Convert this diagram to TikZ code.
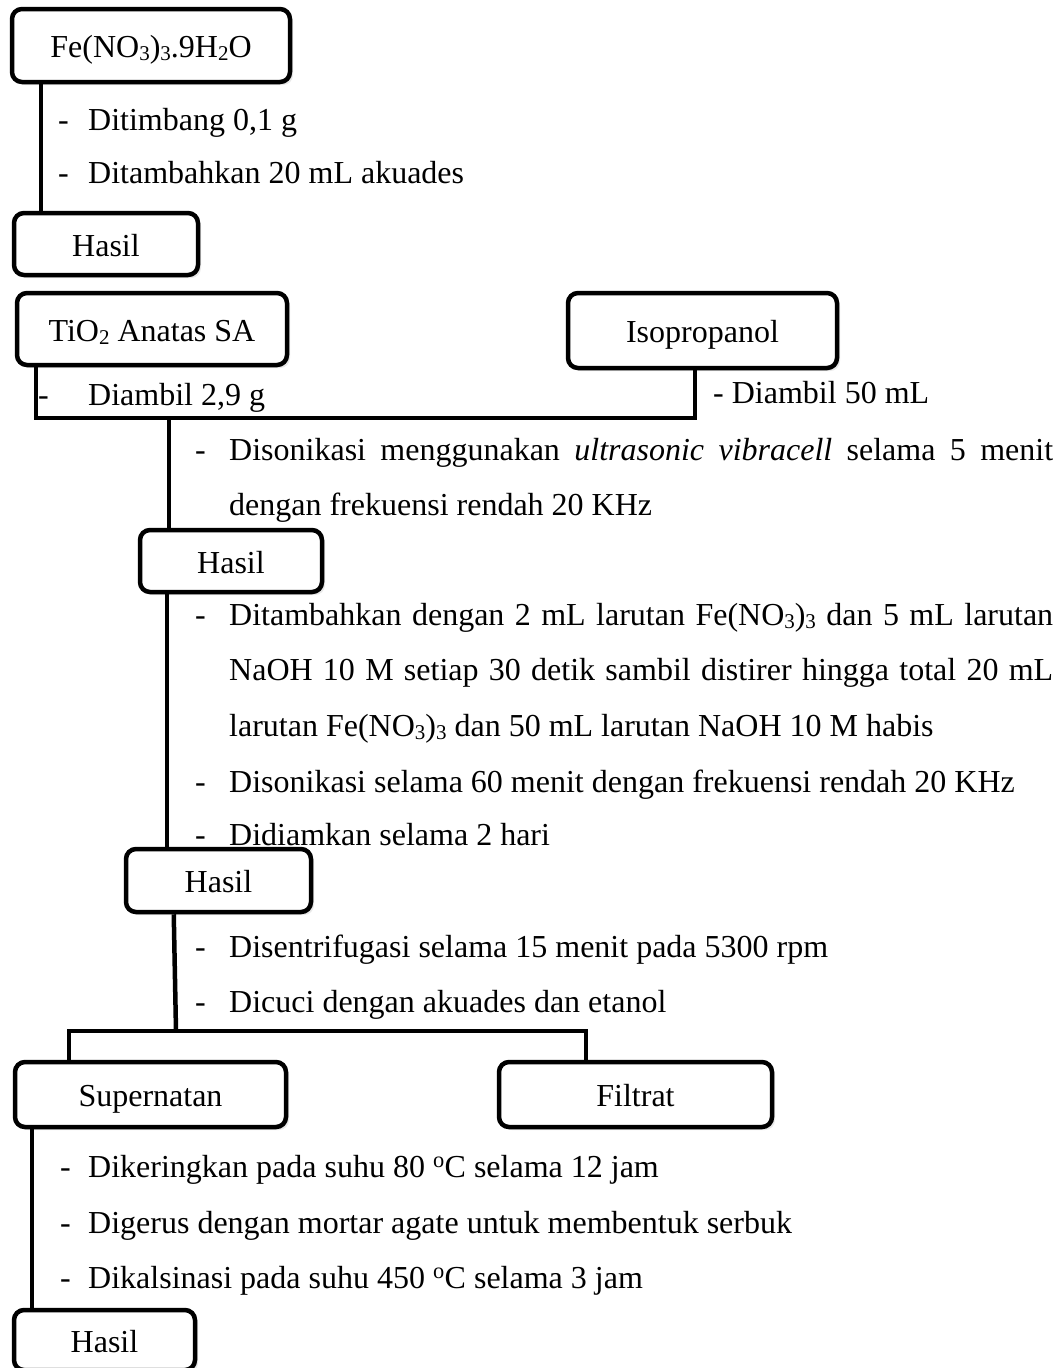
\documentclass[tikz,border=0pt]{standalone}
\usepackage{fontspec}
\setmainfont{Liberation Serif}
\usepackage{xcolor}
\usepackage{tikz}
\usetikzlibrary{positioning, calc, shadows}
\definecolor{flowInk}{RGB}{0, 0, 0}
\newcommand{\chemsub}[1]{\raisebox{-3pt}{\fontsize{21}{21}\selectfont #1}}
\tikzset{
    base/.style={
        font=\fontsize{32}{55.5}\selectfont,
        text=flowInk
    },
    stage/.style={
        base,
        rectangle,
        rounded corners=10pt,
        draw=flowInk,
        line width=4.5pt,
        fill=white,
        align=center,
        inner sep=0pt,
        text height=24pt,
        text depth=0pt,
        drop shadow={opacity=0.18, shadow xshift=3pt, shadow yshift=-3pt}
    },
    link/.style={
        draw=flowInk,
        line width=4.5pt
    },
    stepdash/.style={
        base,
        anchor=base west,
        inner sep=0pt
    },
    stepnote/.style={
        base,
        anchor=base west,
        inner sep=0pt
    },
    steppara/.style={
        stepnote,
        text width=824pt,
        align=justify
    }
}
\begin{document}
\begin{tikzpicture}[x=1pt, y=-1pt]
    \useasboundingbox (0,0) rectangle (1056,1368);

    % Boxes
    \node[stage, minimum width=278pt, minimum height=73pt] (fe) at (151,45.5) {Fe(NO\chemsub{3})\chemsub{3}.9H\chemsub{2}O};
    \node[stage, minimum width=184pt, minimum height=62pt] (hasilA) at (106,244) {Hasil};
    \node[stage, minimum width=270pt, minimum height=72pt] (tio) at (152,329) {TiO\chemsub{2} Anatas SA};
    \node[stage, minimum width=269pt, minimum height=75pt] (iso) at (702.5,330.5) {Isopropanol};
    \node[stage, minimum width=182pt, minimum height=62pt] (hasilB) at (231,561) {Hasil};
    \node[stage, minimum width=185pt, minimum height=63pt] (hasilC) at (218.5,880.5) {Hasil};
    \node[stage, minimum width=271pt, minimum height=65pt] (sup) at (150.5,1094.5) {Supernatan};
    \node[stage, minimum width=273pt, minimum height=65pt] (fil) at (635.5,1094.5) {Filtrat};
    \node[stage, minimum width=181pt, minimum height=60pt] (hasilD) at (104.5,1340) {Hasil};

    % Junctions
    \coordinate (j1) at (169,418);
    \coordinate (j2) at (176,1031);

    % Connectors
    \draw[link] ([xshift=31pt]fe.south west) -- ([xshift=29pt]hasilA.north west);
    \draw[link] ([xshift=21pt]tio.south west) |- (j1) -| ([xshift=129pt]iso.south west);
    \draw[link] (j1) -- (j1 |- hasilB.north);
    \draw[link] ([xshift=29pt]hasilB.south west) -- ([xshift=43pt]hasilC.north west);
    \draw[link] ([xshift=50pt]hasilC.south west) -- (j2);
    \draw[link] ([xshift=56pt]sup.north west) |- (j2) -| ([xshift=89pt]fil.north west);
    \draw[link] ([xshift=19pt]sup.south west) -- ([xshift=20pt]hasilD.north west);

    % Steps
    \node[stepdash] (d1) at (58,130) {-};
    \node[stepnote] (t1) at (88,130) {Ditimbang 0,1 g};
    \node[stepdash] (d2) at (58,183) {-};
    \node[stepnote] (t2) at (88,183) {Ditambahkan 20 mL akuades};

    \node[stepdash] (d3) at (38,405) {-};
    \node[stepnote] (t3) at (88,405) {Diambil 2,9 g};
    \node[stepnote] (t4) at (713,403) {- Diambil 50 mL};

    \node[stepdash] (d5) at (195,460) {-};
    \node[steppara] (t5) at (229,460) {Disonikasi menggunakan \textit{ultrasonic vibracell} selama 5 menit\linebreak dengan frekuensi rendah 20 KHz};

    \node[stepdash] (d6) at (195,625) {-};
    \node[steppara] (t6) at (229,625) {Ditambahkan dengan 2 mL larutan Fe(NO\chemsub{3})\chemsub{3} dan 5 mL larutan\linebreak NaOH 10 M setiap 30 detik sambil distirer hingga total 20 mL\linebreak larutan Fe(NO\chemsub{3})\chemsub{3} dan 50 mL larutan NaOH 10 M habis};
    \node[stepdash] (d7) at (195,792) {-};
    \node[stepnote] (t7) at (229,792) {Disonikasi selama 60 menit dengan frekuensi rendah 20 KHz};
    \node[stepdash] (d8) at (195,845) {-};
    \node[stepnote] (t8) at (229,845) {Didiamkan selama 2 hari};

    \node[stepdash] (d9) at (195,957) {-};
    \node[stepnote] (t9) at (229,957) {Disentrifugasi selama 15 menit pada 5300 rpm};
    \node[stepdash] (d10) at (195,1012) {-};
    \node[stepnote] (t10) at (229,1012) {Dicuci dengan akuades dan etanol};

    \node[stepdash] (d11) at (60,1177) {-};
    \node[stepnote] (t11) at (88,1177) {Dikeringkan pada suhu 80 \textsuperscript{o}C selama 12 jam};
    \node[stepdash] (d12) at (60,1233) {-};
    \node[stepnote] (t12) at (88,1233) {Digerus dengan mortar agate untuk membentuk serbuk};
    \node[stepdash] (d13) at (60,1288) {-};
    \node[stepnote] (t13) at (88,1288) {Dikalsinasi pada suhu 450 \textsuperscript{o}C selama 3 jam};
\end{tikzpicture}
\end{document}
